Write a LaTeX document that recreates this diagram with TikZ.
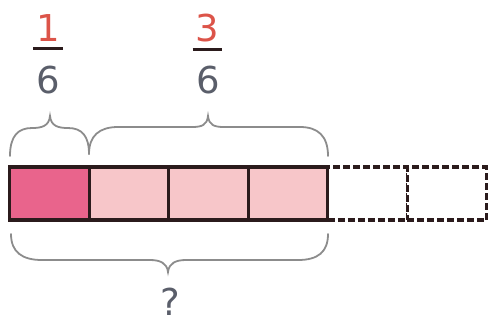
\documentclass[tikz,border=0pt]{standalone}
\usepackage{fontspec}
\setmainfont{DejaVu Sans}
\usetikzlibrary{positioning,calc}

\definecolor{darkpink}{HTML}{E9648C}
\definecolor{lightpink}{HTML}{F7C6C9}
\definecolor{cellline}{HTML}{2B1B1C}
\definecolor{numred}{HTML}{DC5449}
\definecolor{dengray}{HTML}{5A5E6A}
\definecolor{bracegray}{HTML}{8C8C8C}

\tikzset{
  cell/.style={draw=cellline,line width=3.2pt,minimum width=79.5pt,minimum height=53pt,inner sep=0pt,outer sep=0pt},
  emptycell/.style={cell,dash pattern=on 7pt off 3pt,fill=white},
  curl/.style={draw=bracegray,line width=1.8pt,line cap=round},
  digit/.style={font=\fontsize{37}{40}\selectfont,inner sep=0pt},
  fracbar/.style={draw=cellline,line width=3pt}
}

\begin{document}
\begin{tikzpicture}[x=1pt,y=-1pt]
\useasboundingbox (0,0) rectangle (489,325);

% bar of sixths
\node[emptycell] (e1) at (367.5,193.5) {};
\node[emptycell,right=0pt of e1] (e2) {};
\node[cell,fill=darkpink] (c1) at (49.5,193.5) {};
\node[cell,fill=lightpink,right=0pt of c1] (c2) {};
\node[cell,fill=lightpink,right=0pt of c2] (c3) {};
\node[cell,fill=lightpink,right=0pt of c3] (c4) {};

% braces above
\draw[curl] (10,156) .. controls (10,136) and (18,128) .. (32,128)
  .. controls (42,128) and (49,126) .. (50,116)
  .. controls (51,126) and (58,128) .. (68,128)
  .. controls (82,128) and (89,136) .. (89,154);
\draw[curl] (89,154) .. controls (89,136) and (99,127) .. (118,127) -- (192,127)
  .. controls (202,127) and (207,125) .. (208,116)
  .. controls (209,125) and (214,127) .. (224,127) -- (300,127)
  .. controls (318,127) and (328,136) .. (328,156);

% brace below
\draw[curl] (11,234) .. controls (11,252) and (22,260) .. (42,260) -- (150,260)
  .. controls (160,260) and (167,263) .. (168,272)
  .. controls (169,263) and (176,260) .. (186,260) -- (298,260)
  .. controls (318,260) and (328,252) .. (328,234);

% fractions
\node[digit,text=numred] (n1) at (48,28) {1};
\draw[fracbar] ($(n1.south)+(-15,7)$) -- ++(30,0);
\node[digit,text=dengray] (d1) at (48,80) {6};

\node[digit,text=numred] (n3) at (207,28) {3};
\draw[fracbar] ($(n3.south)+(-14.5,7)$) -- ++(29,0);
\node[digit,text=dengray] (d3) at (208,80) {6};

\node[digit,text=dengray] (q) at (170,302) {?};
\end{tikzpicture}
\end{document}
